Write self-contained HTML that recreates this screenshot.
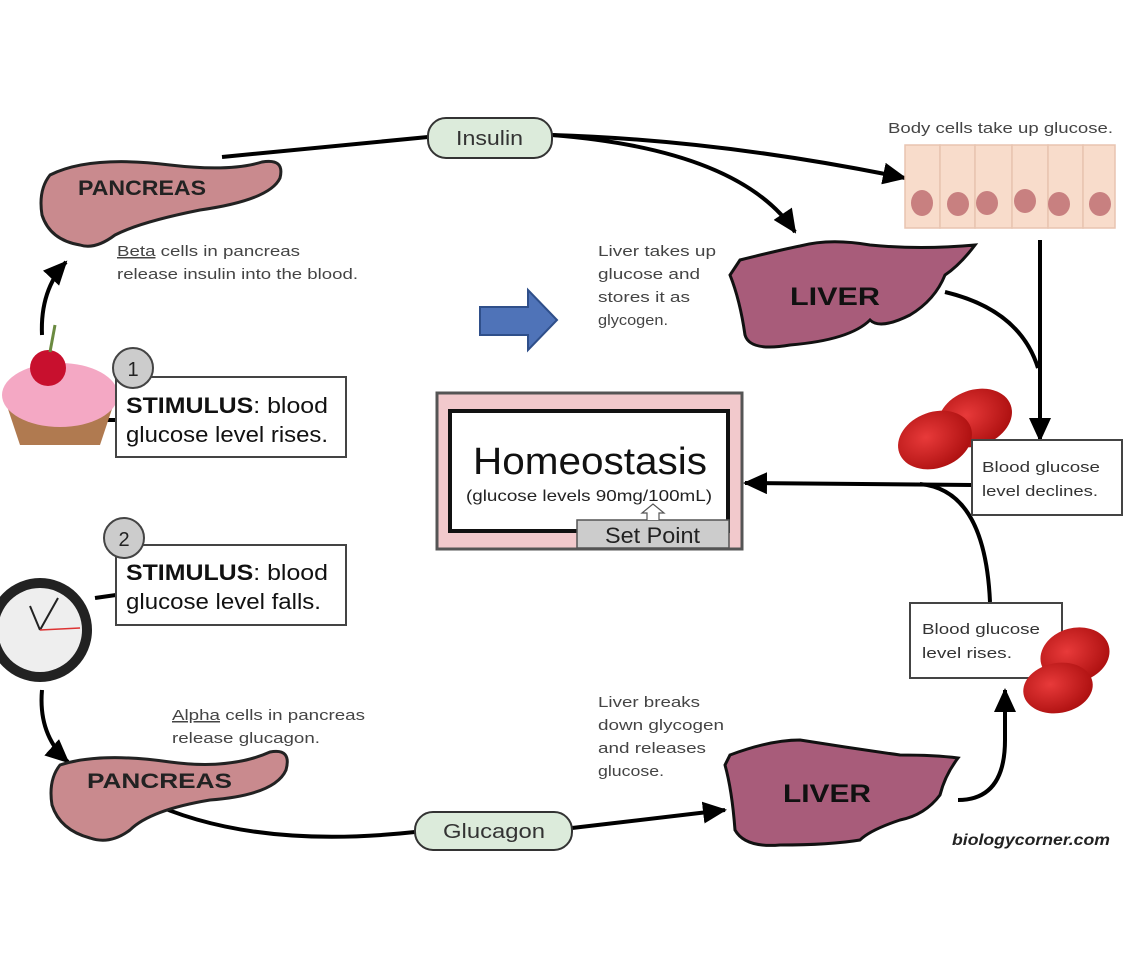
<!DOCTYPE html>
<html><head><meta charset="utf-8"><style>
html,body{margin:0;padding:0;background:#fff;}
svg{display:block;}
text{font-family:"Liberation Sans",sans-serif;}
</style></head><body>
<svg width="1146" height="976" viewBox="0 0 1146 976" xmlns="http://www.w3.org/2000/svg">
<defs>
<marker id="ahb" markerWidth="24" markerHeight="22" refX="22" refY="11" orient="auto" markerUnits="userSpaceOnUse">
<path d="M0,0 L24,11 L0,22 z" fill="#000"/></marker>
<radialGradient id="rbc" cx="0.4" cy="0.4" r="0.7"><stop offset="0" stop-color="#e83a3a"/><stop offset="1" stop-color="#a80c0c"/></radialGradient>
</defs>
<rect width="1146" height="976" fill="#fff"/>

<g fill="none" stroke="#000" stroke-width="4">
<path d="M222,157 L428,137"/>
<path d="M552,135 Q720,140 905,178" marker-end="url(#ahb)"/>
<path d="M552,135 Q740,150 795,232" marker-end="url(#ahb)"/>
<path d="M1040,240 L1040,440" marker-end="url(#ahb)"/>
<path d="M945,292 Q1020,310 1038,368"/>
<path d="M972,485 L745,483" marker-end="url(#ahb)"/>
<path d="M990,602 Q985,490 920,484"/>
<path d="M42,335 Q40,290 66,262" marker-end="url(#ahb)"/>
<path d="M42,690 Q38,735 68,762" marker-end="url(#ahb)"/>
<path d="M145,800 Q250,850 415,832"/>
<path d="M572,828 L725,810" marker-end="url(#ahb)"/>
<path d="M958,800 Q1005,800 1005,740 L1005,690" marker-end="url(#ahb)"/>
<path d="M95,420 L116,420"/>
<path d="M95,598 L116,595"/>
</g>

<rect x="428" y="118" width="124" height="40" rx="18" fill="#dcebdb" stroke="#333" stroke-width="2"/>
<text x="456" y="145" font-size="20" textLength="67" lengthAdjust="spacingAndGlyphs" fill="#333">Insulin</text>
<rect x="415" y="812" width="157" height="38" rx="18" fill="#dcebdb" stroke="#333" stroke-width="2"/>
<text x="443" y="838" font-size="20" textLength="102" lengthAdjust="spacingAndGlyphs" fill="#333">Glucagon</text>

<text x="888" y="133" font-size="15" textLength="225" lengthAdjust="spacingAndGlyphs" fill="#444">Body cells take up glucose.</text>
<g fill="#f8dccb" stroke="#e8c4b0" stroke-width="1.5">
<rect x="905" y="145" width="35" height="83"/><rect x="940" y="145" width="35" height="83"/>
<rect x="975" y="145" width="37" height="83"/><rect x="1012" y="145" width="36" height="83"/>
<rect x="1048" y="145" width="35" height="83"/><rect x="1083" y="145" width="32" height="83"/>
</g>
<g fill="#c88080">
<ellipse cx="922" cy="203" rx="11" ry="13"/><ellipse cx="958" cy="204" rx="11" ry="12"/>
<ellipse cx="987" cy="203" rx="11" ry="12"/><ellipse cx="1025" cy="201" rx="11" ry="12"/>
<ellipse cx="1059" cy="204" rx="11" ry="12"/><ellipse cx="1100" cy="204" rx="11" ry="12"/>
</g>

<path d="M50,175 Q90,155 170,165 Q230,172 262,162 Q285,158 280,178 Q270,200 200,210 Q140,222 115,235 Q95,250 80,245 Q50,240 42,215 Q38,190 50,175 z" fill="#c98a8e" stroke="#222" stroke-width="3"/>
<text x="78" y="195" font-size="21" font-weight="bold" textLength="128" lengthAdjust="spacingAndGlyphs" fill="#222">PANCREAS</text>
<text x="117" y="256" font-size="15" textLength="183" lengthAdjust="spacingAndGlyphs" fill="#444"><tspan text-decoration="underline">Beta</tspan> cells in pancreas</text>
<text x="117" y="279" font-size="15" textLength="241" lengthAdjust="spacingAndGlyphs" fill="#444">release insulin into the blood.</text>

<path d="M740,260 Q780,250 800,246 Q830,238 870,245 Q920,250 975,245 Q960,265 945,275 Q935,300 910,315 Q880,330 870,320 Q850,340 790,345 Q750,352 745,335 Q740,300 730,275 z" fill="#a85c7a" stroke="#111" stroke-width="3"/>
<text x="790" y="305" font-size="25" font-weight="bold" textLength="90" lengthAdjust="spacingAndGlyphs" fill="#111">LIVER</text>
<g font-size="15" fill="#444">
<text x="598" y="256" textLength="118" lengthAdjust="spacingAndGlyphs">Liver takes up</text>
<text x="598" y="279" textLength="102" lengthAdjust="spacingAndGlyphs">glucose and</text>
<text x="598" y="302" textLength="92" lengthAdjust="spacingAndGlyphs">stores it as</text>
<text x="598" y="325" textLength="70" lengthAdjust="spacingAndGlyphs">glycogen.</text>
</g>

<path d="M480,307 L528,307 L528,290 L557,320 L528,350 L528,335 L480,335 z" fill="#4f73b8" stroke="#2f4f8a" stroke-width="2"/>

<path d="M5,400 L115,400 L100,445 L20,445 z" fill="#b07a50"/>
<ellipse cx="60" cy="395" rx="58" ry="32" fill="#f4a8c4"/>
<circle cx="48" cy="368" r="18" fill="#c8102e"/>
<path d="M50,352 L55,325" stroke="#6a8a40" stroke-width="3"/>

<rect x="116" y="377" width="230" height="80" fill="#fff" stroke="#444" stroke-width="2"/>
<circle cx="133" cy="368" r="20" fill="#ccc" stroke="#444" stroke-width="2"/>
<text x="133" y="376" font-size="20" text-anchor="middle" fill="#222">1</text>
<text x="126" y="413" font-size="22" textLength="202" lengthAdjust="spacingAndGlyphs" fill="#111"><tspan font-weight="bold">STIMULUS</tspan>:  blood</text>
<text x="126" y="442" font-size="22" textLength="202" lengthAdjust="spacingAndGlyphs" fill="#111">glucose level rises.</text>

<rect x="116" y="545" width="230" height="80" fill="#fff" stroke="#444" stroke-width="2"/>
<circle cx="124" cy="538" r="20" fill="#ccc" stroke="#444" stroke-width="2"/>
<text x="124" y="546" font-size="20" text-anchor="middle" fill="#222">2</text>
<text x="126" y="580" font-size="22" textLength="202" lengthAdjust="spacingAndGlyphs" fill="#111"><tspan font-weight="bold">STIMULUS</tspan>:  blood</text>
<text x="126" y="609" font-size="22" textLength="195" lengthAdjust="spacingAndGlyphs" fill="#111">glucose level falls.</text>

<circle cx="40" cy="630" r="52" fill="#222"/>
<circle cx="40" cy="630" r="42" fill="#eee"/>
<path d="M40,630 L30,606 M40,630 L58,598" stroke="#222" stroke-width="2"/>
<path d="M40,630 L80,628" stroke="#d33" stroke-width="1.5"/>

<rect x="437" y="393" width="305" height="156" fill="#f2c9cc" stroke="#555" stroke-width="3"/>
<rect x="450" y="411" width="278" height="120" fill="#fff" stroke="#111" stroke-width="4"/>
<text x="473" y="474" font-size="38" textLength="234" lengthAdjust="spacingAndGlyphs" fill="#111">Homeostasis</text>
<text x="466" y="501" font-size="16" textLength="246" lengthAdjust="spacingAndGlyphs" fill="#222">(glucose levels 90mg/100mL)</text>
<rect x="577" y="520" width="152" height="28" fill="#ccc" stroke="#555" stroke-width="1.5"/>
<text x="605" y="543" font-size="22" textLength="95" lengthAdjust="spacingAndGlyphs" fill="#222">Set Point</text>
<path d="M647,520 L647,513 L642,513 L653,504 L664,513 L659,513 L659,520" fill="#fff" stroke="#555" stroke-width="1.2"/>

<ellipse cx="975" cy="418" rx="38" ry="28" fill="url(#rbc)" transform="rotate(-20 975 418)"/>
<ellipse cx="935" cy="440" rx="38" ry="28" fill="url(#rbc)" transform="rotate(-20 935 440)"/>
<rect x="972" y="440" width="150" height="75" fill="#fff" stroke="#444" stroke-width="2"/>
<text x="982" y="472" font-size="15" textLength="118" lengthAdjust="spacingAndGlyphs" fill="#333">Blood glucose</text>
<text x="982" y="496" font-size="15" textLength="116" lengthAdjust="spacingAndGlyphs" fill="#333">level declines.</text>

<rect x="910" y="603" width="152" height="75" fill="#fff" stroke="#444" stroke-width="2"/>
<text x="922" y="634" font-size="15" textLength="118" lengthAdjust="spacingAndGlyphs" fill="#333">Blood glucose</text>
<text x="922" y="658" font-size="15" textLength="90" lengthAdjust="spacingAndGlyphs" fill="#333">level rises.</text>
<ellipse cx="1075" cy="655" rx="35" ry="27" fill="url(#rbc)" transform="rotate(-15 1075 655)"/>
<ellipse cx="1058" cy="688" rx="35" ry="25" fill="url(#rbc)" transform="rotate(-10 1058 688)"/>

<path d="M60,765 Q100,752 170,762 Q230,770 270,752 Q292,748 286,770 Q275,795 210,800 Q150,810 130,830 Q110,845 90,838 Q60,830 52,805 Q48,780 60,765 z" fill="#c98a8e" stroke="#222" stroke-width="3"/>
<text x="87" y="788" font-size="21" font-weight="bold" textLength="145" lengthAdjust="spacingAndGlyphs" fill="#222">PANCREAS</text>
<text x="172" y="720" font-size="15" textLength="193" lengthAdjust="spacingAndGlyphs" fill="#444"><tspan text-decoration="underline">Alpha</tspan> cells in pancreas</text>
<text x="172" y="743" font-size="15" textLength="148" lengthAdjust="spacingAndGlyphs" fill="#444">release glucagon.</text>

<path d="M730,755 Q770,740 800,740 Q850,748 900,755 Q935,755 958,758 Q945,775 940,795 Q925,815 900,820 Q870,830 860,840 Q830,845 780,845 Q745,848 735,830 Q732,790 725,765 z" fill="#a85c7a" stroke="#111" stroke-width="3"/>
<text x="783" y="802" font-size="25" font-weight="bold" textLength="88" lengthAdjust="spacingAndGlyphs" fill="#111">LIVER</text>
<g font-size="15" fill="#444">
<text x="598" y="707" textLength="102" lengthAdjust="spacingAndGlyphs">Liver breaks</text>
<text x="598" y="730" textLength="126" lengthAdjust="spacingAndGlyphs">down glycogen</text>
<text x="598" y="753" textLength="108" lengthAdjust="spacingAndGlyphs">and releases</text>
<text x="598" y="776" textLength="66" lengthAdjust="spacingAndGlyphs">glucose.</text>
</g>

<text x="952" y="845" font-size="16" font-weight="bold" font-style="italic" textLength="158" lengthAdjust="spacingAndGlyphs" fill="#222">biologycorner.com</text>
</svg>
</body></html>
